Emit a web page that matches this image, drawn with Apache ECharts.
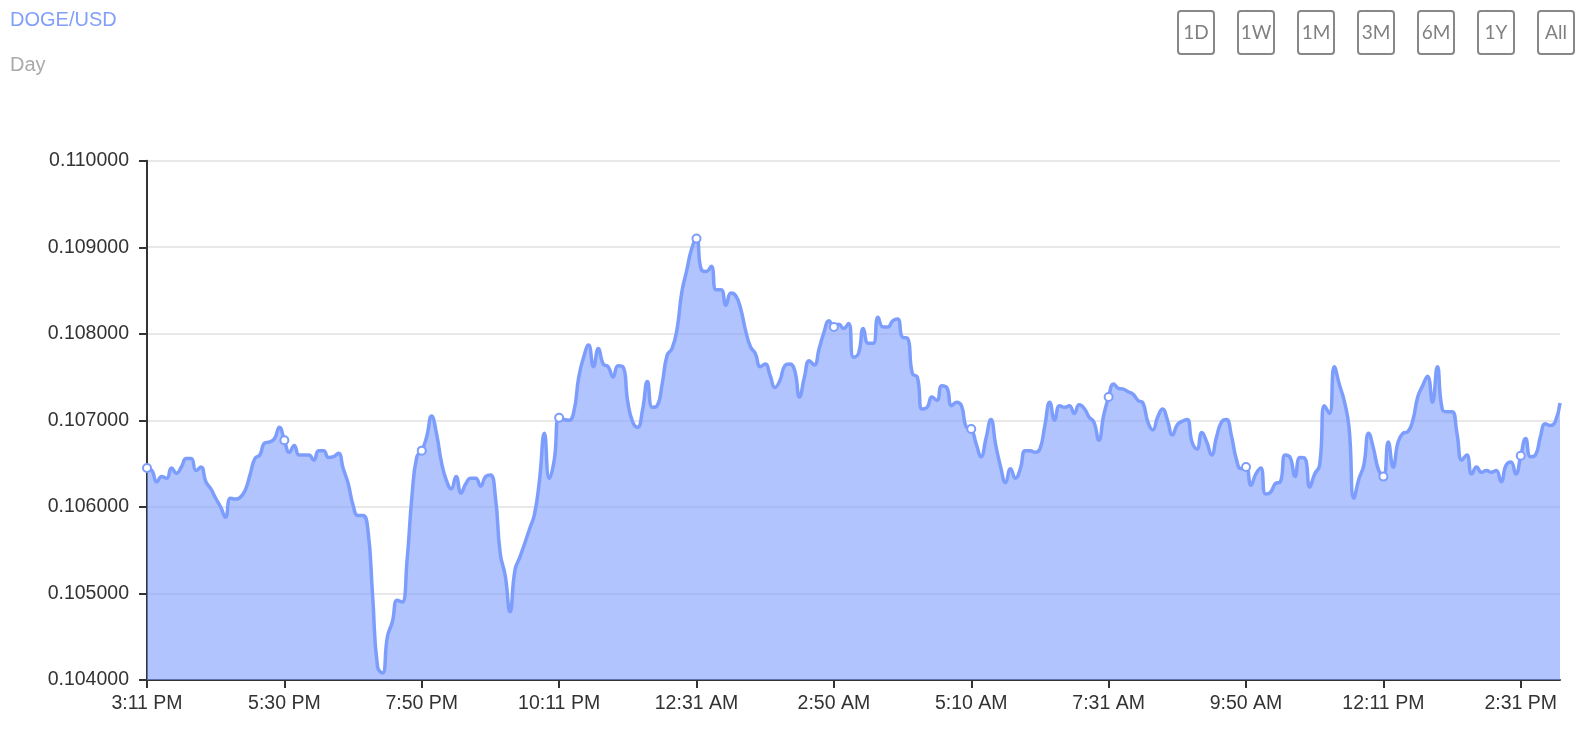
<!DOCTYPE html>
<html>
<head>
<meta charset="utf-8">
<script src="https://cdn.jsdelivr.net/npm/echarts@6/dist/echarts.min.js"></script>
<style>
html,body{margin:0;padding:0;background:#fff;}
#chart{width:1590px;height:740px;}
</style>
</head>
<body>
<div id="chart"></div>
<script>
// Axis tick labels (one every 28 points)
const tickLabels = ['3:11 PM','5:30 PM','7:50 PM','10:11 PM','12:31 AM','2:50 AM','5:10 AM','7:31 AM','9:50 AM','12:11 PM','2:31 PM'];
const rangeButtons = ['1D','1W','1M','3M','6M','1Y','All'];

// DOGE/USD price, evening segment (3:11 PM -> ~11:05 PM)
const pricesEvening = [
0.10645,0.10642,0.10629,0.10635,0.10633,0.10645,0.10639,0.10646,0.10656,0.10656,
0.10642,0.10646,0.10629,0.10621,0.10610,0.10600,0.10588,0.10610,0.10609,0.10611,
0.10619,0.10637,0.10656,0.10660,0.10674,0.10675,0.10679,0.10692,0.10677,0.10663,
0.10671,0.10660,0.10660,0.10660,0.10654,0.10665,0.10665,0.10657,0.10658,0.10662,
0.10644,0.10627,0.10602,0.10590,0.10590,0.10575,0.10496,0.10415,0.10408,0.10450,
0.10467,0.10492,0.10490,0.10538,0.10612,0.10658,0.10665,0.10681,0.10705,0.10685,
0.10652,0.10631,0.10621,0.10635,0.10616,0.10627,0.10633,0.10633,0.10624,0.10635,
0.10637,0.10612,0.10546,0.10521,0.10479,0.10527,0.10542,0.10558,0.10575,0.10592,
0.10631,0.10685,0.10633,0.10654,0.10703,0.10701,0.10700,0.10710,0.10750,0.10773,
0.10787,0.10762,0.10783,0.10765,0.10762,0.10750,0.10763
];
// night segment
const pricesNight = [
0.10762,0.10721,0.10698,0.10692,0.10712,0.10745,0.10715,0.10717,0.10742,0.10775,
0.10783,0.10804,0.10848,0.10873,0.10898,0.10910,0.10874,0.10872,0.10878,0.10851,
0.10851,0.10833,0.10847,0.10844,0.10829,0.10804,0.10785,0.10777,0.10762,0.10765,
0.10752,0.10738,0.10746,0.10763,0.10765,0.10758,0.10727,0.10750,0.10769,0.10764,
0.10783,0.10802,0.10815,0.10808,0.10811,0.10806,0.10812,0.10773,0.10777,0.10806,
0.10789,0.10789,0.10819,0.10808,0.10808,0.10815,0.10817,0.10796,0.10795,0.10754,
0.10750,0.10713,0.10715,0.10727,0.10723,0.10740,0.10738,0.10717,0.10721,0.10717,
0.10692,0.10690,0.10673,0.10658,0.10679,0.10701,0.10671,0.10646,0.10628,0.10644,
0.10633,0.10644,0.10665,0.10665,0.10663,0.10667,0.10694,0.10721,0.10700,0.10717,
0.10715,0.10717,0.10708,0.10718,0.10714,0.10704
];
// morning / afternoon segment
const pricesDay = [
0.10698,0.10677,0.10706,0.10727,0.10742,0.10737,0.10736,0.10733,0.10730,0.10723,
0.10720,0.10698,0.10689,0.10704,0.10713,0.10700,0.10683,0.10695,0.10699,0.10701,
0.10675,0.10667,0.10686,0.10675,0.10660,0.10681,0.10698,0.10701,0.10683,0.10656,
0.10644,0.10646,0.10625,0.10638,0.10645,0.10615,0.10617,0.10627,0.10629,0.10660,
0.10657,0.10635,0.10657,0.10656,0.10623,0.10638,0.10648,0.10717,0.10708,0.10762,
0.10742,0.10723,0.10692,0.10610,0.10632,0.10648,0.10685,0.10667,0.10643,0.10635,
0.10675,0.10646,0.10675,0.10685,0.10687,0.10700,0.10727,0.10740,0.10751,0.10721,
0.10762,0.10713,0.10710,0.10710,0.10685,0.10654,0.10660,0.10638,0.10646,0.10640,
0.10642,0.10640,0.10642,0.10629,0.10648,0.10652,0.10638,0.10659,0.10679,0.10658,
0.10660,0.10681,0.10696,0.10694,0.10698,0.10720
];

const prices = pricesEvening.concat(pricesNight, pricesDay);
const LABEL_STEP = 28;
const categories = prices.map((_, i) => (i % LABEL_STEP === 0 ? tickLabels[i / LABEL_STEP] : ''));

const LINE = '#7d9dfc';
const FONT = "'Liberation Sans', Arial, Helvetica, sans-serif";

const buttons = rangeButtons.map((t, k) => ({
  type: 'group',
  left: 1177 + 60 * k,
  top: 10,
  children: [
    { type: 'rect', shape: { x: 0, y: 0, width: 36, height: 43, r: 3 },
      style: { fill: '#fff', stroke: '#888888', lineWidth: 2 } },
    { type: 'text', x: 18, y: 21.5,
      style: { text: t, fill: '#808080', font: "normal 19px 'Lato', 'Open Sans', sans-serif",
               textAlign: 'center', textVerticalAlign: 'middle' } }
  ]
}));

const chart = echarts.init(document.getElementById('chart'), null, { renderer: 'canvas' });
chart.setOption({
  animation: false,
  backgroundColor: '#fff',
  title: {
    text: 'DOGE/USD',
    subtext: 'Day',
    left: 10,
    top: 10,
    padding: 0,
    itemGap: 25,
    textStyle: { color: '#82a0fb', fontSize: 20, fontWeight: 'normal', fontFamily: FONT },
    subtextStyle: { color: '#aaaaaa', fontSize: 20, fontFamily: FONT }
  },
  graphic: buttons,
  grid: { left: 147, right: 30, top: 160.7, bottom: 60, containLabel: false },
  xAxis: {
    type: 'category',
    data: categories,
    boundaryGap: false,
    axisLine: { show: true, lineStyle: { color: '#333', width: 2 } },
    axisTick: { show: true, alignWithLabel: true, interval: LABEL_STEP - 1, length: 8, lineStyle: { color: '#333', width: 2 } },
    axisLabel: { interval: LABEL_STEP - 1, color: '#333', fontSize: 19.5, fontFamily: FONT, margin: 14 },
    splitLine: { show: false }
  },
  yAxis: {
    type: 'value',
    min: 0.104,
    max: 0.110,
    interval: 0.001,
    axisLine: { show: true, lineStyle: { color: '#333', width: 2 } },
    axisTick: { show: true, length: 8, lineStyle: { color: '#333', width: 2 } },
    axisLabel: { color: '#333', fontSize: 19.5, fontFamily: FONT, margin: 18,
                 formatter: v => v.toFixed(6) },
    splitLine: { show: true, lineStyle: { color: '#e8e8e8', width: 2 } }
  },
  series: [{
    type: 'line',
    data: prices,
    smooth: true,
    symbol: 'emptyCircle',
    symbolSize: 8,
    showAllSymbol: 'auto',
    lineStyle: { color: LINE, width: 3.5 },
    itemStyle: { color: LINE, borderColor: LINE, borderWidth: 2 },
    areaStyle: { color: LINE, opacity: 0.6 }
  }]
});
</script>
</body>
</html>
